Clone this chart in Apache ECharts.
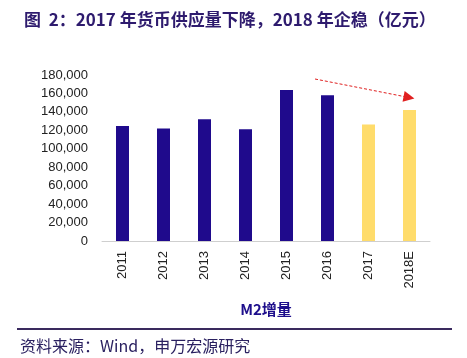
<!DOCTYPE html>
<html><head><meta charset="utf-8">
<script src="https://cdn.jsdelivr.net/npm/echarts@6/dist/echarts.min.js"></script>
<style>html,body{margin:0;padding:0;background:#fff}#c{width:467px;height:358px}</style>
</head><body><div id="c"></div>
<script>
const categories = ['2011','2012','2013','2014','2015','2016','2017','2018E'];
const m2Increase = [124800, 122000, 132000, 121200, 163800, 158000, 126300, 142100];
const isForecast = [false, false, false, false, false, false, true, true];
const yTicks = {min: 0, max: 180000, interval: 20000};

const chart = echarts.init(document.getElementById('c'), null, {renderer: 'canvas'});
chart.setOption({
  animation: false,
  backgroundColor: '#fff',
  title: {
    text: '图  2：2017 年货币供应量下降，2018 年企稳（亿元）',
    left: 19, top: 6,
    textStyle: {fontFamily: 'Noto Sans CJK SC', fontSize: 17, fontWeight: 'bold', color: '#2e1b6e'}
  },
  grid: {left: 102, right: 37, top: 75, bottom: 117, containLabel: false},
  xAxis: {
    type: 'category', data: categories,
    name: 'M2增量', nameLocation: 'middle', nameGap: 61,
    nameTextStyle: {fontFamily: 'Noto Sans CJK SC', fontSize: 15, fontWeight: 'bold', color: '#1e0f8c'},
    axisLine: {lineStyle: {color: '#cfcfcf', width: 1}},
    axisTick: {show: false},
    axisLabel: {rotate: 90, margin: 10, fontFamily: 'Liberation Sans', fontSize: 13, color: '#222', interval: 0}
  },
  yAxis: {
    type: 'value', min: yTicks.min, max: yTicks.max, interval: yTicks.interval,
    splitLine: {show: false}, axisLine: {show: false}, axisTick: {show: false},
    axisLabel: {margin: 14, fontFamily: 'Liberation Sans', fontSize: 13, color: '#222',
      formatter: v => v.toLocaleString('en-US')}
  },
  series: [{
    type: 'bar', barWidth: 13,
    data: m2Increase.map((v, i) => ({value: v, itemStyle: {color: isForecast[i] ? '#ffdc6b' : '#1f0a8c'}})),
    markLine: {
      silent: true, symbol: ['none', 'triangle'], symbolSize: 11,
      label: {show: false},
      lineStyle: {color: '#e02020', type: [3, 2], width: 1},
      data: [[{x: 315, y: 79}, {x: 409, y: 97.5}]]
    }
  }],
  graphic: [
    {type: 'rect', shape: {x: 17, y: 328, width: 435, height: 2}, style: {fill: '#3a2a5e'}},
    {type: 'text', left: 20, top: 338, style: {text: '资料来源：Wind，申万宏源研究', fontFamily: 'Noto Sans CJK SC', fontSize: 16, fill: '#2a2060'}}
  ]
});
</script></body></html>
